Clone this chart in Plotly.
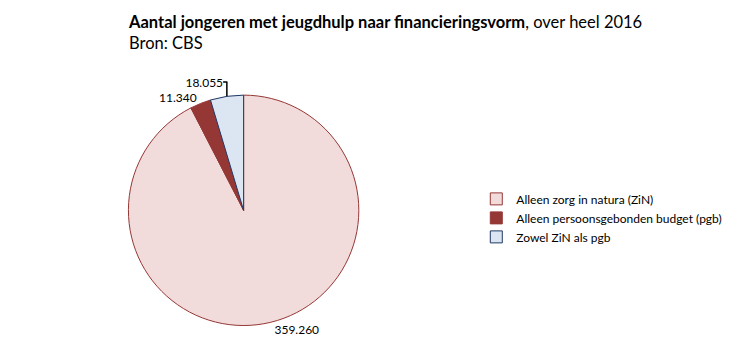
import plotly.graph_objects as go

labels = ["Alleen zorg in natura (ZiN)", "Alleen persoonsgebonden budget (pgb)", "Zowel ZiN als pgb"]
values = [359260, 11340, 18055]
fill_colors = ["#F2DCDB", "#953735", "#DCE6F2"]
line_colors = ["#953735", "#953735", "#1F3864"]

fig = go.Figure(go.Pie(
    labels=labels,
    values=values,
    sort=False,
    direction="clockwise",
    rotation=0,
    marker=dict(colors=fill_colors, line=dict(color=line_colors, width=1)),
    textposition="outside",
    texttemplate="%{value:,}",
    textfont=dict(size=12, color="#000000", family="Lato, Noto Sans, sans-serif"),
    hoverinfo="label+value",
    domain=dict(x=[0.163, 0.479], y=[0.118, 0.758]),
    showlegend=True,
))

fig.update_layout(
    width=734, height=360,
    margin=dict(l=0, r=0, t=0, b=0),
    paper_bgcolor="white",
    separators=",.",
    font=dict(family="Lato, Noto Sans, sans-serif", size=11, color="#000000"),
    legend=dict(
        x=0.638, y=0.417, xanchor="left", yanchor="middle",
        font=dict(size=12, color="#000000"),
        bgcolor="rgba(0,0,0,0)",
    ),
    annotations=[
        dict(
            text="<b>Aantal jongeren met jeugdhulp naar financieringsvorm</b>, over heel 2016<br>Bron: CBS",
            x=118 / 734, y=1 - 2 / 360, xref="paper", yref="paper",
            xanchor="left", yanchor="top", align="left", showarrow=False,
            font=dict(size=16.5, color="#000000", family="Lato, Noto Sans, sans-serif"),
        )
    ],
)

fig.write_html("out.html")
